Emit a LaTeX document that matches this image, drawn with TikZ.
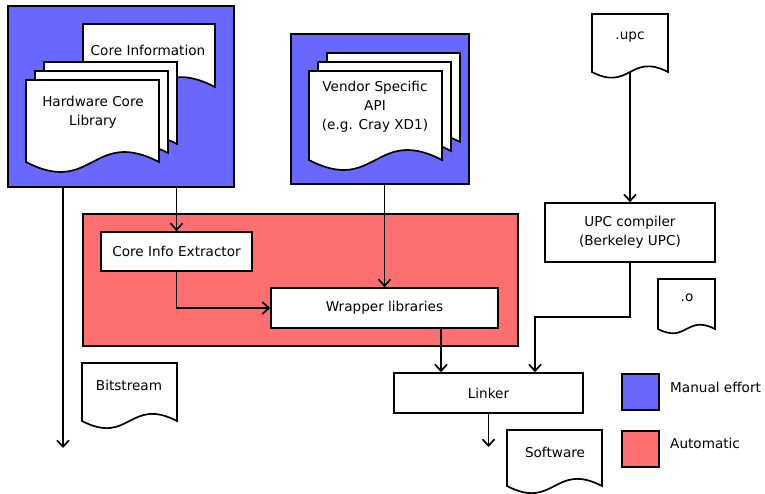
\documentclass[tikz,border=0pt]{standalone}
\usepackage{fontspec}
\setmainfont{DejaVu Sans}
\usetikzlibrary{arrows.meta,calc}
\definecolor{manualblue}{RGB}{104,104,255}
\definecolor{autored}{RGB}{255,111,111}
\newcommand\docshape[4]{%
  \pgfmathsetmacro\dcm{(#1+#3)/2}%
  \pgfmathsetmacro\dcc{0.26*(#3-#1)}%
  \filldraw[docline] (#1,#2) -- (#3,#2) -- (#3,#4)
    .. controls (\dcm,#4-\dcc) and (\dcm,#4+\dcc) .. (#1,#4) -- cycle;}
\tikzset{
  docline/.style={draw=black,fill=white,line width=1.7pt,line join=miter},
  region/.style={draw=black,line width=1.7pt,inner sep=0pt},
  procbox/.style={draw=black,fill=white,line width=1.7pt,inner sep=0pt,font=\fontsize{13.6}{19}\selectfont},
  lbl/.style={inner sep=0pt,align=center,font=\fontsize{13.6}{19}\selectfont},
  arr/.style={line width=1.7pt,-{Straight Barb[length=6.5pt,width=12pt,line width=1.7pt]}},
  conn/.style={line width=1.7pt}
}
\begin{document}
\begin{tikzpicture}[x=1pt,y=-1pt]
\useasboundingbox (0,0) rectangle (765,493);
% regions
\node[region,fill=manualblue,minimum width=226pt,minimum height=181pt,anchor=north west] (hwbox) at (7,5) {};
\node[region,fill=manualblue,minimum width=178pt,minimum height=150pt,anchor=north west] (vendorbox) at (290,33) {};
\node[region,fill=autored,minimum width=435pt,minimum height=132pt,anchor=north west] (autobox) at (82,213) {};
% documents in the hardware box
\docshape{83}{24}{215}{87}
\node[lbl] (coreinfo) at (148,50) {Core Information};
\docshape{44}{62}{177}{144}
\docshape{35}{71}{168}{153}
\docshape{26}{80}{159}{162}
\node[lbl] (hwlib) at (93,112) {Hardware Core\\Library};
% documents in the vendor box
\docshape{327}{53}{460}{142}
\docshape{318}{62}{451}{151}
\docshape{309}{71}{442}{160}
\node[lbl] (vendor) at (375,107) {Vendor Specific\\API\\(e.g. Cray XD1)};
% other documents
\docshape{592}{14}{668}{72}
\node[lbl] (upcfile) at (630,37) {.upc};
\coordinate (upcout) at (630,72);
\docshape{658}{279}{715}{329}
\node[lbl] (ofile) at (687,298) {.o};
\docshape{82}{363}{177}{421}
\node[lbl] (bitstream) at (129,385) {Bitstream};
\docshape{507}{430}{602}{486}
\node[lbl] (software) at (555,452) {Software};
% process boxes
\node[procbox,minimum width=151pt,minimum height=39pt] (extractor) at (176.5,251.5) {Core Info Extractor};
\node[procbox,minimum width=227pt,minimum height=40pt] (wrapper) at (384.5,308) {Wrapper libraries};
\node[procbox,minimum width=170pt,minimum height=59pt,align=center] (upc) at (630,232.5) {UPC compiler\\(Berkeley UPC)};
\node[procbox,minimum width=189pt,minimum height=40pt] (linker) at (488.5,393) {Linker};
% legend
\node[region,fill=manualblue,minimum width=37pt,minimum height=36pt,anchor=north west] (legblue) at (621,373) {};
\node[region,fill=autored,minimum width=37pt,minimum height=36pt,anchor=north west] (legred) at (621,430) {};
\node[lbl,anchor=west] (legbluetxt) at (670,387) {Manual effort};
\node[lbl,anchor=west] (legredtxt) at (670,443) {Automatic};
% connectors
\coordinate (bitout) at (63,448);
\draw[arr] (bitout |- hwbox.south) -- (bitout);
\draw[arr] (extractor.north |- hwbox.south) -- (extractor.north);
\draw[arr] (wrapper.north |- vendorbox.south) -- (wrapper.north);
\draw[arr] (extractor.south) |- (wrapper.west);
\draw[arr] (upcout) -- (upc.north);
\coordinate (wrapdown) at ([xshift=56.5pt]wrapper.south);
\draw[arr] (wrapdown) -- (wrapdown |- linker.north);
\coordinate (linkin) at ([xshift=46.5pt]linker.north);
\draw[arr] (upc.south) -- ++(0,54) -| (linkin);
\coordinate (swout) at (488.5,447);
\draw[arr] (linker.south) -- (swout);
\end{tikzpicture}
\end{document}
